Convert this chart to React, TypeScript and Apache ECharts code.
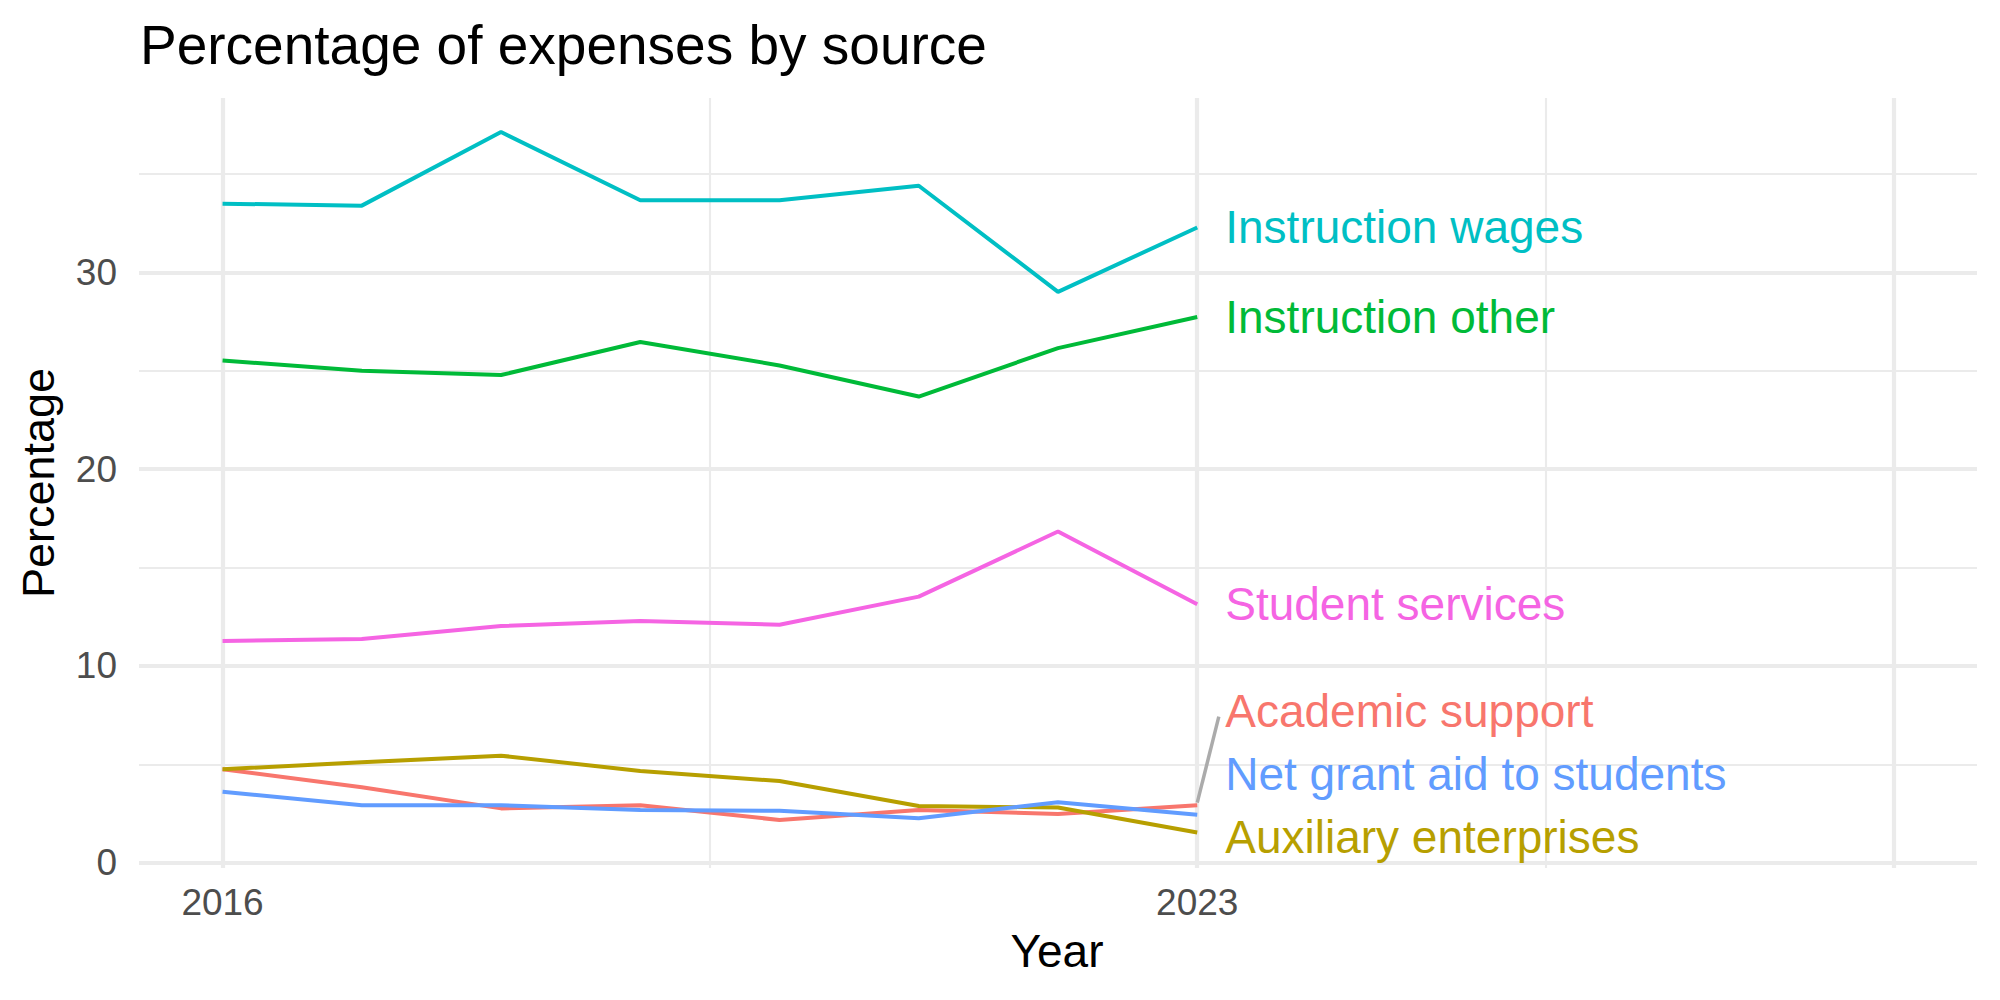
import React, { useEffect, useRef } from "react";
import * as echarts from "echarts";

const years = [2016, 2017, 2018, 2019, 2020, 2021, 2022, 2023];
const seriesNames = [
  "Academic support",
  "Auxiliary enterprises",
  "Instruction other",
  "Instruction wages",
  "Net grant aid to students",
  "Student services",
];
const academicSupport = [4.75, 3.83, 2.76, 2.92, 2.17, 2.68, 2.48, 2.92];
const auxiliaryEnterprises = [4.75, 5.1, 5.44, 4.66, 4.15, 2.88, 2.8, 1.53];
const instructionOther = [25.52, 25.0, 24.78, 26.46, 25.27, 23.69, 26.15, 27.73];
const instructionWages = [33.49, 33.39, 37.13, 33.66, 33.66, 34.4, 29.01, 32.28];
const netGrantAid = [3.61, 2.92, 2.92, 2.68, 2.64, 2.26, 3.07, 2.44];
const studentServices = [11.27, 11.37, 12.03, 12.28, 12.09, 13.52, 16.83, 13.13];
// repelled label anchor values (y) at the last year
const labelAnchors = [7.71, 1.3, 27.73, 32.28, 4.52, 13.13];
// repel segment for "Academic support" label
const repelSegment = [
  [2023, 3.05],
  [2023.155, 7.42],
];
const colors = ["#F8766D", "#B79F00", "#00BA38", "#00BFC4", "#619CFF", "#F564E3"];
const xTickLabels = [2016, 2023];
const yTickLabels = [0, 10, 20, 30];
const xMajorGrid = [2016, 2023, 2028];
const xMinorGrid = [2019.5, 2025.5];
const yMajorGrid = [0, 10, 20, 30];
const yMinorGrid = [5, 15, 25, 35];

const allValues = [
  academicSupport,
  auxiliaryEnterprises,
  instructionOther,
  instructionWages,
  netGrantAid,
  studentServices,
];

const FONT = "'Liberation Sans', Arial, Helvetica, sans-serif";
const GRID_COLOR = "#EBEBEB";

export default function App() {
  const ref = useRef<HTMLDivElement>(null);

  useEffect(() => {
    if (!ref.current) return;
    const chart = echarts.init(ref.current, null, { renderer: "svg" });

    const gridLines: any[] = [];
    xMinorGrid.forEach((v) =>
      gridLines.push({ xAxis: v, lineStyle: { width: 2.1, color: GRID_COLOR, type: "solid" } })
    );
    yMinorGrid.forEach((v) =>
      gridLines.push({ yAxis: v, lineStyle: { width: 2.1, color: GRID_COLOR, type: "solid" } })
    );
    xMajorGrid.forEach((v) =>
      gridLines.push({ xAxis: v, lineStyle: { width: 4.2, color: GRID_COLOR, type: "solid" } })
    );
    yMajorGrid.forEach((v) =>
      gridLines.push({ yAxis: v, lineStyle: { width: 4.2, color: GRID_COLOR, type: "solid" } })
    );

    const dataSeries = seriesNames.map((name, i) => ({
      name,
      type: "line",
      z: 3,
      data: years.map((y, j) => [y, allValues[i][j]]),
      showSymbol: false,
      symbol: "none",
      silent: true,
      lineStyle: { color: colors[i], width: 4 },
      itemStyle: { color: colors[i] },
    }));

    const option: any = {
      animation: false,
      backgroundColor: "#FFFFFF",
      textStyle: { fontFamily: FONT },
      grid: { left: 139, right: 23, top: 98, bottom: 132, containLabel: false },
      xAxis: {
        type: "value",
        min: 2015.4,
        max: 2028.6,
        axisLine: { show: false, onZero: false },
        axisTick: { show: false },
        splitLine: { show: false },
        axisLabel: {
          customValues: xTickLabels,
          color: "#4D4D4D",
          fontSize: 37,
          fontFamily: FONT,
          margin: 16,
          formatter: (v: number) => String(v),
        },
      },
      yAxis: {
        type: "value",
        min: -0.27,
        max: 38.86,
        axisLine: { show: false, onZero: false },
        axisTick: { show: false },
        splitLine: { show: false },
        axisLabel: {
          customValues: yTickLabels,
          color: "#4D4D4D",
          fontSize: 37,
          fontFamily: FONT,
          margin: 22,
          formatter: (v: number) => String(v),
        },
      },
      graphic: [
        {
          type: "text",
          left: 140,
          top: 17.5,
          style: {
            text: "Percentage of expenses by source",
            fontSize: 55,
            fontFamily: FONT,
            fill: "#000000",
          },
        },
        {
          type: "text",
          x: 1057,
          y: 951,
          style: {
            text: "Year",
            fontSize: 46,
            fontFamily: FONT,
            fill: "#000000",
            align: "center",
            verticalAlign: "middle",
          },
        },
        {
          type: "text",
          x: 38,
          y: 483,
          rotation: Math.PI / 2,
          style: {
            text: "Percentage",
            fontSize: 45,
            fontFamily: FONT,
            fill: "#000000",
            align: "center",
            verticalAlign: "middle",
          },
        },
      ],
      series: [
        {
          name: "grid",
          type: "line",
          z: 0,
          zlevel: 0,
          data: [],
          silent: true,
          markLine: {
            z: 0,
            silent: true,
            symbol: ["none", "none"],
            label: { show: false },
            animation: false,
            data: gridLines,
          },
        },
        ...dataSeries,
        {
          name: "segment",
          type: "line",
          z: 4,
          data: repelSegment,
          symbol: "none",
          silent: true,
          lineStyle: { color: "#ABABAB", width: 3.5 },
        },
        {
          name: "labels",
          type: "scatter",
          z: 10,
          symbolSize: 0,
          silent: true,
          itemStyle: { opacity: 1 },
          data: seriesNames.map((name, i) => ({
            name,
            value: [years[years.length - 1], labelAnchors[i]],
            label: { color: colors[i] },
          })),
          label: {
            show: true,
            position: "right",
            distance: 28,
            fontSize: 46,
            fontFamily: FONT,
            opacity: 1,
            textBorderWidth: 0,
            textShadowBlur: 0,
            formatter: (p: any) => p.name,
          },
        },
      ],
    };

    chart.setOption(option);
    return () => chart.dispose();
  }, []);

  return (
    <div
      ref={ref}
      style={{ position: "fixed", left: 0, top: 0, width: 2000, height: 1000, background: "#fff" }}
    />
  );
}
